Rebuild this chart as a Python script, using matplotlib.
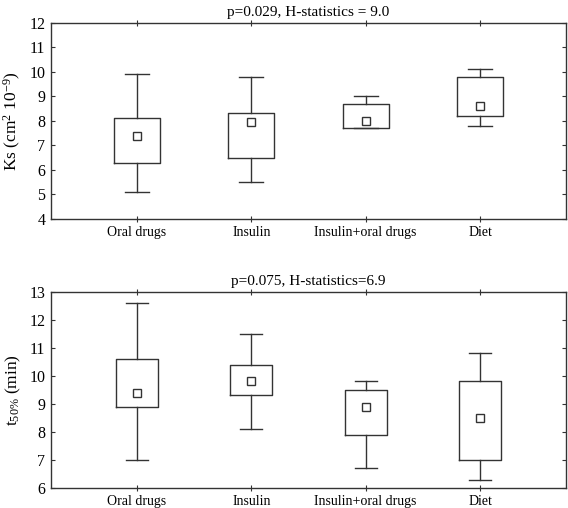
import matplotlib
matplotlib.use("Agg")
import matplotlib.pyplot as plt

categories = ["Oral drugs", "Insulin", "Insulin+oral drugs", "Diet"]

# Top panel: Ks (cm^2 10^-9)
ks_whislo = [5.1, 5.5, 7.7, 7.8]
ks_q1     = [6.3, 6.5, 7.7, 8.2]
ks_q3     = [8.1, 8.3, 8.7, 9.8]
ks_whishi = [9.9, 9.8, 9.0, 10.1]
ks_mean   = [7.4, 7.95, 8.0, 8.6]

# Bottom panel: t50% (min)
t_whislo = [7.0, 8.1, 6.7, 6.3]
t_q1     = [8.9, 9.3, 7.9, 7.0]
t_q3     = [10.6, 10.4, 9.5, 9.8]
t_whishi = [12.6, 11.5, 9.8, 10.8]
t_mean   = [9.4, 9.8, 8.9, 8.5]

plt.rcParams['font.family'] = ['Liberation Serif', 'DejaVu Serif']
plt.rcParams['mathtext.fontset'] = 'custom'
plt.rcParams['mathtext.rm'] = 'Liberation Serif'
plt.rcParams['mathtext.it'] = 'Liberation Serif:italic'
plt.rcParams['mathtext.bf'] = 'Liberation Serif:bold'

fig = plt.figure(figsize=(5.68, 5.08), dpi=100)
ax1 = fig.add_axes([0.0898, 0.5689, 0.9067, 0.3864])
ax2 = fig.add_axes([0.0898, 0.0394, 0.9067, 0.3864])

lc = '#333333'

def draw(ax, lo, q1, q3, hi, mean, ylim, title, ylabel, width, capw):
    stats = []
    for i, c in enumerate(categories):
        stats.append(dict(label=c, whislo=lo[i], q1=q1[i], med=mean[i],
                          q3=q3[i], whishi=hi[i], mean=mean[i]))
    ax.bxp(stats, positions=range(len(categories)), widths=width,
           showmeans=True, showfliers=False, capwidths=capw,
           boxprops=dict(color=lc, linewidth=1.0),
           whiskerprops=dict(color=lc, linewidth=1.0),
           capprops=dict(color=lc, linewidth=1.0),
           medianprops=dict(linewidth=0),
           meanprops=dict(marker='s', markerfacecolor='white',
                          markeredgecolor=lc, markersize=5.5,
                          markeredgewidth=1.0))
    ax.set_xlim(-0.752, 3.752)
    ax.set_ylim(*ylim)
    ax.set_yticks(range(ylim[0], ylim[1] + 1))
    ax.set_xticks(range(len(categories)))
    ax.set_xticklabels(categories, fontsize=10)
    ax.tick_params(axis='y', which='both', direction='in', length=3,
                   left=True, right=True, labelsize=11.5, color=lc, pad=4)
    ax.tick_params(axis='x', which='both', direction='inout', length=4,
                   top=True, bottom=True, labelsize=10, color=lc, pad=3)
    for s in ax.spines.values():
        s.set_color(lc)
        s.set_linewidth(1.0)
    ax.set_title(title, fontsize=11, pad=5)
    ax.set_ylabel(ylabel, fontsize=12.5, labelpad=5)

draw(ax1, ks_whislo, ks_q1, ks_q3, ks_whishi, ks_mean, (4, 12),
     "p=0.029, H-statistics = 9.0", r"Ks (cm$^2$ 10$^{-9}$)", 0.40, 0.21)
draw(ax2, t_whislo, t_q1, t_q3, t_whishi, t_mean, (6, 13),
     "p=0.075, H-statistics=6.9", r"t$_{50\%}$ (min)", 0.37, 0.19)

fig.savefig("out.png", dpi=100)
